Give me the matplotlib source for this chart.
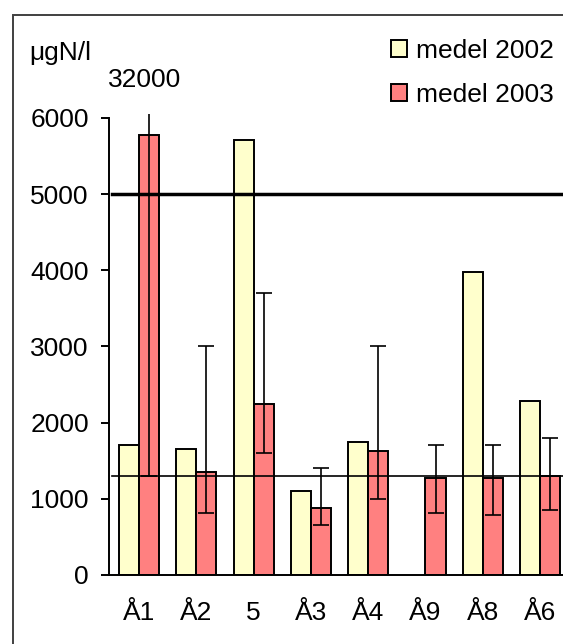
import numpy as np
import matplotlib
matplotlib.use('Agg')
import matplotlib.pyplot as plt
from matplotlib.patches import Rectangle

plt.rcParams['font.family'] = ['Liberation Sans', 'DejaVu Sans']
plt.rcParams['font.size'] = 19

stations = ['Å1', 'Å2', '5', 'Å3', 'Å4', 'Å9', 'Å8', 'Å6']
medel_2002 = [1700, 1660, 5710, 1100, 1750, np.nan, 3980, 2280]
medel_2003 = [5780, 1350, 2250, 875, 1630, 1270, 1270, 1300]
min_2003 = [1300, 820, 1600, 650, 1000, 820, 790, 850]
max_2003 = [32000, 3000, 3700, 1410, 3000, 1700, 1700, 1800]
grans_hog = 5000
grans_lag = 1300

W, H = 563, 644
fig = plt.figure(figsize=(W / 100, H / 100), dpi=100)
ax = fig.add_axes([109 / W, 69 / H, (W - 109) / W, (575 - 114) / H])

x = np.arange(len(stations))
w = 0.35
m03 = np.array(medel_2003)
yerr = [m03 - np.array(min_2003), np.array(max_2003) - m03]

b1 = ax.bar(x - w / 2, medel_2002, w, color='#FFFFCC', edgecolor='black', linewidth=1.4,
            label='medel 2002', zorder=2)
b2 = ax.bar(x + w / 2, medel_2003, w, color='#FF8080', edgecolor='black', linewidth=1.4,
            label='medel 2003', zorder=2)
ax.errorbar(x + w / 2, medel_2003, yerr=yerr, fmt='none', ecolor='black', elinewidth=1.2,
            capsize=5.8, capthick=1.2, zorder=3)

ax.axhline(grans_hog, xmin=0.007, color='black', linewidth=2.5, zorder=4)
ax.axhline(grans_lag, xmin=0.007, color='black', linewidth=1.2, zorder=4)

ax.set_xlim(-0.524, 7.40)
ax.set_ylim(0, 6050)
ax.set_yticks(range(0, 6001, 1000))
ax.set_xticks(x)
ax.set_xticklabels(stations)

for s in ['top', 'right']:
    ax.spines[s].set_visible(False)
ax.spines['left'].set_bounds(0, 6000)
ax.spines['left'].set_linewidth(1.4)
ax.spines['bottom'].set_linewidth(1.4)
ax.tick_params(axis='y', length=6, width=1.4, pad=8.5)
ax.tick_params(axis='x', length=0, pad=19)

fig.text(29 / W, 1 - 60 / H, 'μgN/l', va='baseline', ha='left')
fig.text(108 / W, 1 - 87 / H, '32000', va='baseline', ha='left')

fig.legend(handles=[b1, b2], loc='upper left', bbox_to_anchor=(391 / W, 1 - 39 / H),
           frameon=False, borderpad=0, borderaxespad=0, handlelength=0.6, handleheight=0.6,
           handletextpad=0.35, labelspacing=0.76)

fig.add_artist(Rectangle((12.7 / W, -0.1), 1.2, 1 - 15 / H + 0.1, transform=fig.transFigure,
                         fill=False, edgecolor='#404040', linewidth=1.4))

fig.savefig('out.png', dpi=100)
